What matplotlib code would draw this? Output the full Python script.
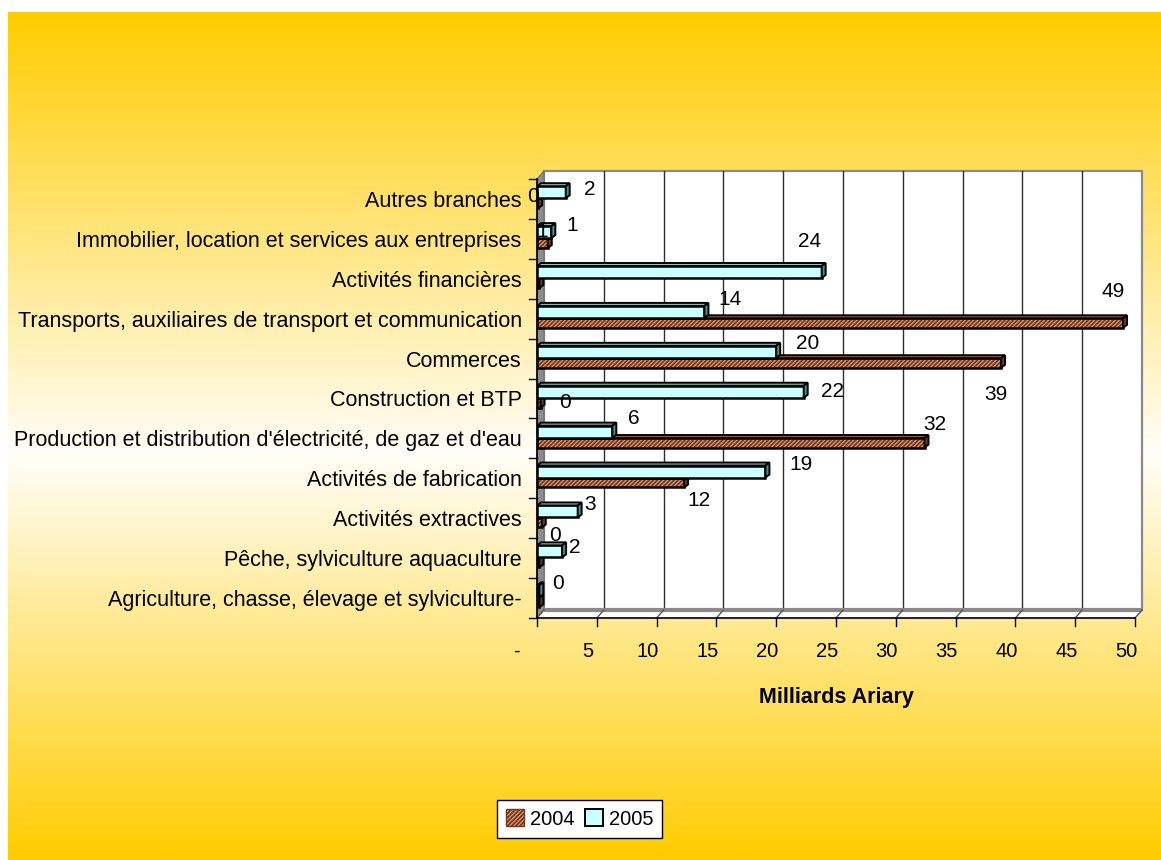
import numpy as np
import matplotlib
matplotlib.use("Agg")
import matplotlib.pyplot as plt
from matplotlib.patches import Polygon, Rectangle, Patch
from matplotlib.transforms import ScaledTranslation

plt.rcParams['font.family'] = ['Liberation Sans', 'DejaVu Sans']
plt.rcParams['hatch.linewidth'] = 1.3

# Branches, bottom to top
branches = [
    "Agriculture, chasse, élevage et sylviculture-",
    "Pêche, sylviculture aquaculture",
    "Activités extractives",
    "Activités de fabrication",
    "Production et distribution d'électricité, de gaz et d'eau",
    "Construction et BTP",
    "Commerces",
    "Transports, auxiliaires de transport et communication",
    "Activités financières",
    "Immobilier, location et services aux entreprises",
    "Autres branches",
]
years = ["2004", "2005"]
val_2004 = [0.2, 0.2, 0.4, 12.3, 32.4, 0.3, 38.8, 49.0, 0.2, 0.9, 0.1]
val_2005 = [0.2, 2.1, 3.4, 19.1, 6.3, 22.3, 20.0, 14.0, 23.8, 1.2, 2.4]
labelled_2004 = [False, False, True, True, True, True, True, True, False, True, True]
x_ticks = [0, 5, 10, 15, 20, 25, 30, 35, 40, 45, 50]
x_tick_labels = ["-", "5", "10", "15", "20", "25", "30", "35", "40", "45", "50"]
x_title = "Milliards Ariary"

# label placement (pixels from bar end / category centre)
off_2005 = [(19, 15), (13, 11), (12, 14), (36, 14), (21, 20), (29, 7),
            (31, 15), (26, 19), (-12, 37), (21, 13), (24, 9)]
off_2004 = [(0, 0), (0, 0), (13, -17), (15, -22), (10, 14), (24, -4),
            (-5, -36), (-10, 27), (0, 0), (-6, 7), (-5, 2)]

W, H = 1161, 860
fig = plt.figure(figsize=(W / 100, H / 100), dpi=100)
fig.patch.set_facecolor("white")

# gradient panel
bg = fig.add_axes([8 / W, 0, (W - 8) / W, (H - 12) / H], zorder=-10)
t = np.linspace(0, 1, 400)
mid = 0.52
f = np.where(t < mid, t / mid, (1 - t) / (1 - mid))
gold = np.array([1.0, 0.8, 0.0])
white = np.array([1.0, 0.995, 0.975])
rows = gold[None, :] * (1 - f[:, None]) + white[None, :] * f[:, None]
img = np.repeat(rows[:, None, :], 2, axis=1)
bg.imshow(img, aspect="auto", extent=[0, 1, 0, 1], origin="upper")
bg.set_axis_off()

# main plot
x0, x1 = 537, 1135
y_bot, y_top = 618, 179
ax = fig.add_axes([x0 / W, 1 - y_bot / H, (x1 - x0) / W, (y_bot - y_top) / H])
ax.set_xlim(0, 50)
ax.set_ylim(-0.5, 10.5)
ax.patch.set_visible(False)
for s in ax.spines.values():
    s.set_visible(False)

pxx = 50 / (x1 - x0)
pxy = 11 / (y_bot - y_top)
dxw, dyw = 7 * pxx, 8 * pxy

# back wall, left wall, floor
ax.add_patch(Rectangle((dxw, -0.5 + dyw), 50, 11, facecolor="white",
                       edgecolor="#8a8a8a", lw=1.6, zorder=0.2, clip_on=False))
for tk in x_ticks[1:-1]:
    ax.plot([tk + dxw] * 2, [-0.5 + dyw, 10.5 + dyw], color="#2e2e2e", lw=1.0,
            zorder=0.4, clip_on=False)
ax.add_patch(Polygon([(0, -0.5), (dxw, -0.5 + dyw), (dxw, 10.5 + dyw), (0, 10.5)],
                     closed=True, facecolor="#8c8c8c", edgecolor="#6e6e6e",
                     lw=0.8, zorder=0.5, clip_on=False))
ax.add_patch(Polygon([(0, -0.5), (50, -0.5), (50 + dxw, -0.5 + dyw), (dxw, -0.5 + dyw)],
                     closed=True, facecolor="white", edgecolor="none",
                     zorder=0.5, clip_on=False))
ax.plot([dxw, 50 + dxw], [-0.5 + dyw, -0.5 + dyw], color="#8a8a8a", lw=3,
        zorder=0.6, clip_on=False, solid_capstyle="butt")
for tk in x_ticks:
    ax.plot([tk, tk + dxw], [-0.5, -0.5 + dyw], color="#555555", lw=1.0,
            zorder=0.7, clip_on=False)
    ax.plot([tk, tk], [-0.5, -0.5 - 8 * pxy], color="black", lw=1.0,
            zorder=0.7, clip_on=False)
ax.plot([0, 50], [-0.5, -0.5], color="black", lw=1.2, zorder=0.8, clip_on=False)
ax.plot([0, 0], [-0.5, 10.5], color="black", lw=1.2, zorder=0.8, clip_on=False)
for k in range(12):
    ax.plot([-8 * pxx, 0], [-0.5 + k, -0.5 + k], color="black", lw=1.0,
            zorder=0.8, clip_on=False)

# bars with 3D faces
y = np.arange(len(branches))
d3x, d3y = 4 * pxx, 3 * pxy
brown_face, brown_hatch = "#E2A47E", "#74361C"
cyan_face = "#CCFFFF"

b04 = ax.barh(y - 0.23 + 0.12, val_2004, height=0.24, color=brown_face,
              edgecolor=brown_hatch, lw=0, hatch="////////", zorder=3)
ax.barh(y - 0.23 + 0.12, val_2004, height=0.24, fill=False,
        edgecolor="black", lw=1.8, zorder=3.1)
b05 = ax.barh(y + 0.02 + 0.15, val_2005, height=0.30, color=cyan_face,
              edgecolor="black", lw=1.8, zorder=3.5)


def add_faces(bars, top_col, end_col, z):
    for r in bars:
        bx, by = r.get_x(), r.get_y()
        bw, bh = r.get_width(), r.get_height()
        top = [(bx, by + bh), (bx + bw, by + bh), (bx + bw + d3x, by + bh + d3y),
               (bx + d3x, by + bh + d3y)]
        end = [(bx + bw, by), (bx + bw + d3x, by + d3y),
               (bx + bw + d3x, by + bh + d3y), (bx + bw, by + bh)]
        ax.add_patch(Polygon(top, closed=True, facecolor=top_col,
                             edgecolor="black", lw=1.4, zorder=z))
        ax.add_patch(Polygon(end, closed=True, facecolor=end_col,
                             edgecolor="black", lw=1.4, zorder=z))


add_faces(b04, "#9A5A3C", "#6E3820", 3.2)
add_faces(b05, "#8FC2C2", "#4F8A8A", 3.6)

# value labels
for i, (v, (dx, dy)) in enumerate(zip(val_2005, off_2005)):
    ax.annotate(f"{v:.0f}", (v, i), xytext=(dx, dy), textcoords="offset pixels",
                ha="center", va="center", fontsize=15, zorder=5)
for i, (v, (dx, dy)) in enumerate(zip(val_2004, off_2004)):
    if labelled_2004[i]:
        ax.annotate(f"{v:.0f}", (v, i), xytext=(dx, dy), textcoords="offset pixels",
                    ha="center", va="center", fontsize=15, zorder=5)

# category labels
ax.set_yticks(y, branches, fontsize=15.5)
ax.tick_params(axis="y", length=0, pad=11)

# x tick labels
ax.set_xticks(x_ticks, x_tick_labels, fontsize=14.5)
ax.tick_params(axis="x", length=0, pad=17)
for k, lab in enumerate(ax.get_xticklabels()):
    shift = -21 if k == 0 else -9
    lab.set_transform(lab.get_transform() +
                      ScaledTranslation(shift / 100, 0, fig.dpi_scale_trans))

fig.text(836 / W, 1 - 698 / H, x_title, ha="center", va="center",
         fontsize=15.5, fontweight="bold")

handles = [Patch(facecolor=brown_face, edgecolor=brown_hatch, hatch="////////", lw=1.0),
           Patch(facecolor=cyan_face, edgecolor="black", lw=1.4)]
leg = fig.legend(handles, years, loc="center", bbox_to_anchor=(579.5 / W, 1 - 819 / H),
                 ncol=2, frameon=True, fancybox=False, edgecolor="black",
                 framealpha=1, fontsize=14.5, handlelength=0.9, handleheight=0.9,
                 columnspacing=0.5, handletextpad=0.3, borderpad=0.45)
leg.get_frame().set_linewidth(1.0)

fig.savefig("out.png", dpi=100)
